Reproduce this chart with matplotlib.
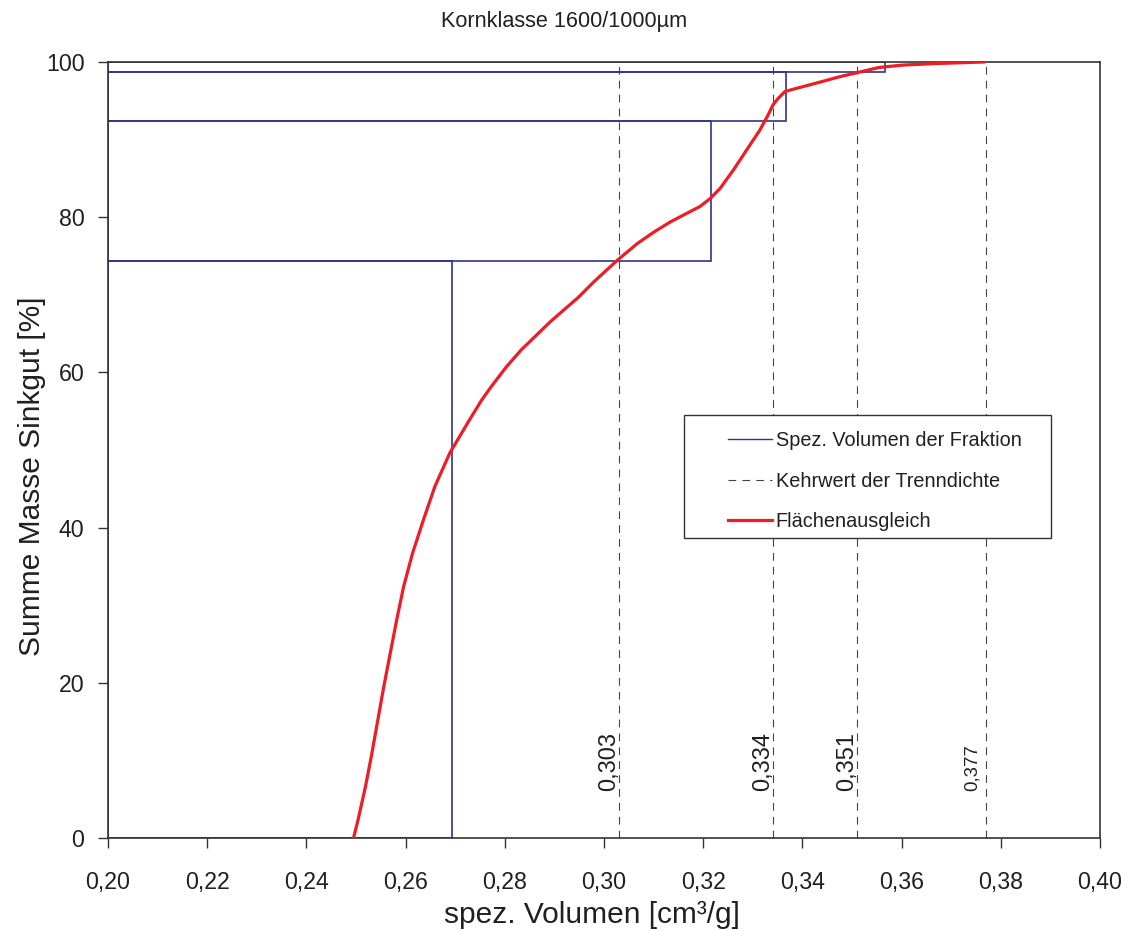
import matplotlib
matplotlib.use('Agg')
from matplotlib import pyplot as plt
from matplotlib.patches import Rectangle

plt.rcParams['font.family'] = ['Liberation Sans', 'DejaVu Sans']

# spez. Volumen der Fraktionen (rechte Kante) und Summenmasse unten/oben
frac_vol = [0.2693, 0.3216, 0.3367, 0.3567]
frac_lo = [0.0, 74.4, 92.4, 98.7]
frac_hi = [74.4, 92.4, 98.7, 100.0]

# Kehrwert der Trenndichte
sep_vol = [0.303, 0.334, 0.351, 0.377]

# Flaechenausgleich
fit_x = [0.2495, 0.2504, 0.2519, 0.2532, 0.2544, 0.2556, 0.2569, 0.2582, 0.2596,
         0.2614, 0.2636, 0.2659, 0.2689, 0.2729, 0.2753, 0.2773, 0.2803, 0.2833,
         0.2867, 0.2893, 0.2947, 0.2980, 0.3026, 0.3067, 0.3101, 0.3134, 0.3167,
         0.3194, 0.3214, 0.3234, 0.3261, 0.3288, 0.3314, 0.3331, 0.3341, 0.3351,
         0.3365, 0.3388, 0.3435, 0.3475, 0.3515, 0.3555, 0.3602, 0.3669, 0.3766]
fit_y = [0.0, 2.3, 6.6, 10.9, 15.2, 19.5, 23.8, 28.1, 32.4,
         36.7, 41.0, 45.3, 49.6, 53.9, 56.4, 58.2, 60.7, 62.9,
         65.0, 66.6, 69.6, 71.7, 74.4, 76.6, 78.1, 79.4, 80.5,
         81.4, 82.4, 83.7, 86.1, 88.7, 91.2, 93.2, 94.5, 95.3,
         96.2, 96.6, 97.4, 98.1, 98.7, 99.3, 99.6, 99.8, 100.0]

x_ticks = [0.20, 0.22, 0.24, 0.26, 0.28, 0.30, 0.32, 0.34, 0.36, 0.38, 0.40]
x_ticklabels = ['0,20', '0,22', '0,24', '0,26', '0,28', '0,30', '0,32', '0,34', '0,36', '0,38', '0,40']
y_ticks = [0, 20, 40, 60, 80, 100]

blue = '#30348a'
red = '#ee1c25'
txt = '#231f20'

fig = plt.figure(figsize=(11.28, 9.31), dpi=100)
ax = fig.add_axes([108 / 1128, 93 / 931, 992 / 1128, 776 / 931])
ax.set_xlim(0.20, 0.40)
ax.set_ylim(0, 100)

for i in range(len(frac_vol)):
    ax.add_patch(Rectangle((0.20, frac_lo[i]), frac_vol[i] - 0.20, frac_hi[i] - frac_lo[i],
                           fill=False, edgecolor=blue, lw=1.2, zorder=2))
ax.plot([], [], color=blue, lw=1.0, label='Spez. Volumen der Fraktion')

for k, v in enumerate(sep_vol):
    ax.axvline(v, color='#444444', lw=0.8, dashes=(7, 5.5), zorder=1,
               label='Kehrwert der Trenndichte' if k == 0 else None)
    last = k == len(sep_vol) - 1
    ax.text(v - (0.0010 if last else -0.0002), 6, f'{v:.3f}'.replace('.', ','),
            rotation=90, ha='right', va='bottom', color=txt,
            fontsize=13.4 if last else 17)

ax.plot(fit_x, fit_y, color=red, lw=2.3, zorder=3, label='Flächenausgleich',
        solid_joinstyle='round')

ax.set_xticks(x_ticks)
ax.set_xticklabels(x_ticklabels)
ax.set_yticks(y_ticks)
ax.tick_params(direction='out', length=7, width=1, colors='#333333', labelcolor=txt, labelsize=16.7)
ax.tick_params(axis='x', pad=16.5)
ax.tick_params(axis='y', pad=10)
for s in ax.spines.values():
    s.set_color('#333333')
    s.set_linewidth(1.2)

ax.set_xlabel('spez. Volumen [cm³/g]', fontsize=21.5, color=txt, labelpad=5)
ax.set_ylabel('Summe Masse Sinkgut [%]', fontsize=21.5, color=txt, labelpad=0)
ax.xaxis.label.set_x(0.488)
ax.yaxis.label.set_y(0.4665)
fig.text(0.5, 1 - 22 / 931, 'Kornklasse 1600/1000µm', ha='center', va='center',
         fontsize=15.6, color=txt)

# Legendenrahmen
ax.add_patch(Rectangle((0.5806, 0.3866), 0.370, 0.1585, transform=ax.transAxes,
                       facecolor='white', edgecolor='#333333', lw=1.0, zorder=4))
leg = ax.legend(loc='upper left', bbox_to_anchor=(0.625, 0.524), frameon=False,
                borderpad=0, borderaxespad=0, handlelength=2.2, handletextpad=0.2,
                labelspacing=1.08, fontsize=14.3)
leg.set_zorder(5)
for t in leg.get_texts():
    t.set_color(txt)

fig.savefig('out.png', dpi=100)
